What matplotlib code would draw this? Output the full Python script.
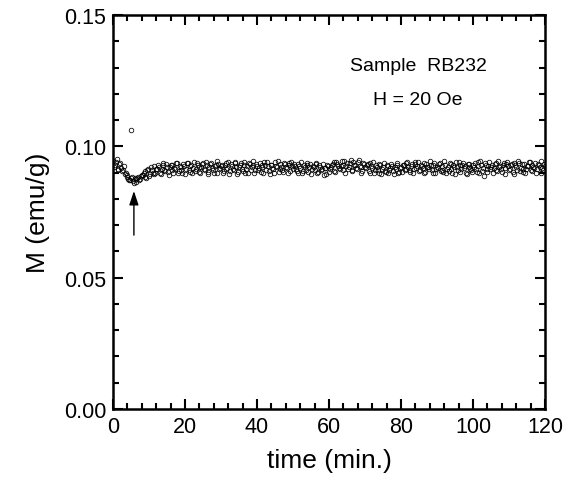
import numpy as np
import matplotlib
matplotlib.use("Agg")
import matplotlib.pyplot as plt
from matplotlib.ticker import MultipleLocator

plt.rcParams['font.family'] = ['Liberation Sans', 'DejaVu Sans']

# time grids (min): two interleaved reading passes
tA_start, tB_start, t_step = 0.0, 0.25, 0.5
# magnetization in units of 1e-4 emu/g
MA_e4 = [
    945, 928, 950, 915, 935, 905, 925,
    900, 885, 872, 880, 868, 878, 865, 882, 876, 890,
    898, 882, 910, 888, 920, 900, 893, 915,
    930, 898, 912, 935, 905, 922, 892, 928, 910, 918, 938, 900, 925, 908, 932, 896,
    935, 910, 925, 898, 942, 915, 930, 902, 920, 938, 908, 927, 895, 933, 918, 900, 929, 944, 912, 924,
    900, 930, 915, 940, 905, 926, 910, 935, 895, 922, 938, 906, 928, 914, 898, 932, 920, 943, 908, 925,
    918, 902, 930, 940, 910, 925, 896, 928, 912, 939, 920, 904, 931, 911, 936, 922, 899, 927, 941, 913,
    925, 905, 933, 917, 898, 929, 910, 937, 921, 895, 926, 908, 932, 903, 923, 914, 892, 919, 928, 902,
    920, 933, 906, 940, 925, 912, 945, 928, 900, 938, 921, 948, 909, 930, 918, 942, 926, 897, 935, 920,
    928, 905, 936, 918, 899, 927, 911, 933, 894, 922, 907, 930, 900, 919, 925, 896, 913, 929, 904, 921,
    927, 908, 936, 920, 901, 932, 914, 940, 924, 905, 930, 918, 897, 934, 921, 943, 910, 928, 900, 923,
    932, 906, 925, 944, 899, 920, 937, 912, 928, 893, 923, 939, 904, 930, 918, 900, 934, 922, 909, 927,
    937, 901, 924, 946, 906, 888, 929, 915, 941, 920, 898, 933, 910, 945, 925, 902, 935, 918, 940, 911,
    927, 903, 937, 920, 945, 907, 931, 914, 897, 925, 939, 910, 929, 919, 900, 934, 922, 943, 908, 926,
]
MB_e4 = [
    920, 940, 910, 932, 918, 908,
    895, 890, 875, 870, 883, 862, 874, 880, 870, 886,
    892, 905, 878, 915, 895, 908, 925, 900,
    915, 922, 895, 928, 910, 933, 902, 920, 930, 897, 915, 935, 905, 920, 898, 925,
    912, 938, 903, 930, 916, 905, 936, 922, 897, 931, 914, 940, 904, 923, 937, 910, 926, 899, 934, 917,
    928, 907, 935, 919, 896, 932, 915, 940, 921, 903, 929, 912, 942, 900, 924, 936, 911, 927, 898, 933,
    909, 935, 921, 897, 928, 942, 906, 930, 917, 899, 926, 944, 913, 923, 901, 933, 916, 938, 905, 924,
    931, 912, 897, 924, 939, 906, 920, 929, 901, 934, 915, 923, 938, 900, 927, 910, 932, 918, 896, 925,
    912, 929, 940, 903, 933, 918, 926, 909, 943, 924, 915, 935, 905, 939, 928, 912, 947, 921, 906, 931,
    916, 932, 900, 925, 940, 908, 921, 898, 929, 915, 935, 903, 924, 911, 931, 905, 920, 936, 898, 917,
    904, 929, 915, 939, 910, 925, 898, 933, 917, 942, 909, 926, 935, 903, 920, 913, 930, 899, 937, 915,
    917, 938, 911, 902, 929, 915, 906, 934, 897, 921, 940, 908, 927, 913, 936, 924, 895, 931, 914, 903,
    921, 913, 941, 899, 930, 917, 935, 903, 926, 912, 930, 919, 938, 905, 922, 913, 928, 896, 933, 924,
    915, 932, 896, 928, 911, 938, 919, 903, 933, 915, 925, 941, 906, 923, 936, 912, 929, 899, 919, 933,
]
# isolated outlier point
t_out = [5.0]
M_out = [0.1062]

# arrow (data coords)
arrow_t = 5.8
arrow_tail = 0.0662
arrow_tip = 0.0830

MA = np.array(MA_e4) * 1e-4
MB = np.array(MB_e4) * 1e-4
tA = tA_start + t_step * np.arange(len(MA))
tB = tB_start + t_step * np.arange(len(MB))
t = np.concatenate([tA, tB])
M = np.concatenate([MA, MB])

fig = plt.figure(figsize=(5.74, 4.89), dpi=100)
ax = fig.add_axes([0.1969, 0.1616, 0.7526, 0.8057])

mk = dict(linestyle='none', marker='o', ms=3.3, mfc='none', mec='black', mew=0.55)
ax.plot(t, M, **mk)
ax.plot(t_out, M_out, **mk)

ax.annotate('', xy=(arrow_t, arrow_tip), xytext=(arrow_t, arrow_tail),
            arrowprops=dict(arrowstyle='-|>,head_length=0.6,head_width=0.2', color='black', lw=1.0,
                            mutation_scale=14, shrinkA=0, shrinkB=0))

ax.set_xlim(0, 120)
ax.set_ylim(0.0, 0.15)
ax.xaxis.set_major_locator(MultipleLocator(20))
ax.xaxis.set_minor_locator(MultipleLocator(4))
ax.yaxis.set_major_locator(MultipleLocator(0.05))
ax.yaxis.set_minor_locator(MultipleLocator(0.01))
ax.yaxis.set_major_formatter(plt.FuncFormatter(lambda v, p: f"{v:.2f}"))

for s in ax.spines.values():
    s.set_linewidth(1.8)
ax.tick_params(which='both', direction='in', top=True, right=True, width=1.5)
ax.tick_params(which='major', length=7, labelsize=15.5, pad=5)
ax.tick_params(which='minor', length=4)

ax.set_xlabel('time (min.)', fontsize=19, labelpad=8)
ax.set_ylabel('M (emu/g)', fontsize=19, labelpad=10)

ax.text(0.706, 0.860, 'Sample  RB232', transform=ax.transAxes, ha='center',
        va='baseline', fontsize=14)
ax.text(0.706, 0.774, 'H = 20 Oe', transform=ax.transAxes, ha='center',
        va='baseline', fontsize=14)

fig.savefig('out.png', dpi=100)
